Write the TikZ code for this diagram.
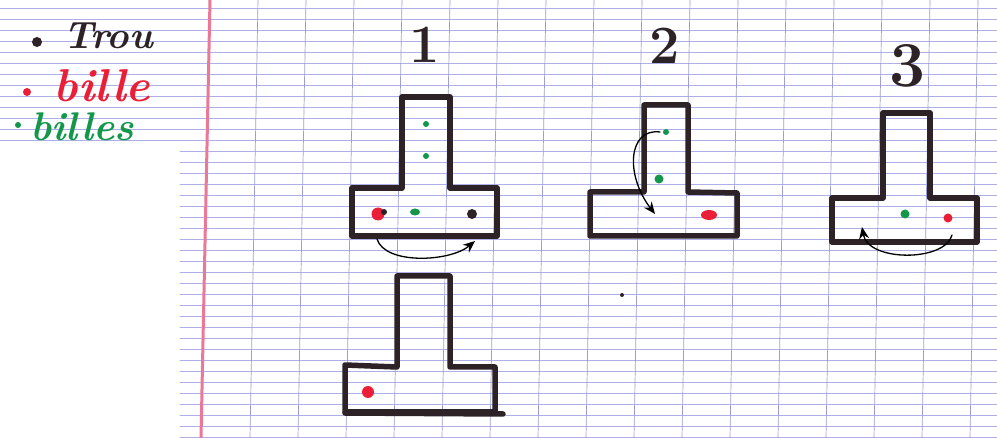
\documentclass[tikz,border=0pt]{standalone}
\usepackage{tikz}
\usetikzlibrary{arrows.meta}
\definecolor{ink}{RGB}{45,35,38}
\definecolor{redink}{RGB}{235,30,55}
\definecolor{greenink}{RGB}{20,150,75}
\definecolor{rule}{RGB}{175,175,232}
\definecolor{margin}{RGB}{235,120,150}

\begin{document}
\begin{tikzpicture}[x=1pt,y=-1pt,line join=round,line cap=round,>={Stealth[length=12pt,width=10pt,inset=4pt]}]
		\tikzstyle{marker}=[draw=ink,line width=5.5pt]
		\tikzstyle{move}=[draw=black,line width=1.3pt,->]
		\tikzstyle{rulel}=[draw=rule,line width=0.7pt]
		\tikzstyle{legend}=[inner sep=0pt]
		\tikzstyle{number}=[font=\bfseries\fontsize{54}{54}\selectfont,text=ink,inner sep=0pt]
		\useasboundingbox[fill=white] (0,0) rectangle (997,438);
		% paper
		\foreach \k in {0,...,39} {
			\pgfmathsetmacro{\yy}{8+11*\k}
			\pgfmathsetmacro{\xs}{\yy<145 ? 0 : 180}
			\draw[rulel] (\xs,\yy) -- (997,\yy);
		}
		\foreach \x in {258,306,...,978}
			\draw[rulel,draw=rule!90!black] (\x,0) -- (\x-8,438);
		\draw[margin,line width=3pt] (210,0) -- (201,438);
		% legende
		\fill[ink] (37,42) circle (5);
		\node[legend,text=ink,font=\itshape\bfseries\fontsize{38}{38}\selectfont] (trou) at (108,36) {Trou};
		\fill[redink] (27,92) circle (4);
		\node[legend,text=redink,font=\itshape\bfseries\fontsize{46}{46}\selectfont] (bille) at (102,86) {bille};
		\fill[greenink] (18,125) circle (3);
		\node[legend,text=greenink,font=\itshape\bfseries\fontsize{40}{40}\selectfont] (billes) at (82,127) {billes};
		% numeros
		\node[number] (n1) at (425,45) {1};
		\node[number] (n2) at (665,46) {2};
		\node[number,font=\bfseries\fontsize{64}{64}\selectfont] (n3) at (908,66) {3};
		% 1
		\draw[marker] (402,188) -- (402,97) -- (450,97) -- (450,188) -- (497,188) -- (497,236) -- (352,236) -- (352,188) -- cycle;
		\fill[redink] (378,214) circle (6.5);
		\fill[ink] (384,212) circle (3);
		\fill[greenink] (415,212) ellipse (5 and 3.5);
		\fill[ink] (472,214) circle (5);
		\fill[greenink] (426,124) circle (3);
		\fill[greenink] (426,156) circle (3);
		\coordinate (a1s) at (377,239);
		\coordinate (a1e) at (475,241);
		\draw[move] (a1s) .. controls (385,265) and (450,262) .. (a1e);
		% 1 bis
		\draw[marker] (397,367) -- (397,276) -- (450,276) -- (450,367) -- (495,367) -- (495,412) -- (345,412) -- (345,365) -- cycle;
		\draw[marker] (345,413) -- (503,414);
		\fill[redink] (368,392) circle (6);
		% 2
		\draw[marker] (644,192) -- (644,105) -- (688,105) -- (688,192) -- (737,193) -- (737,236) -- (590,236) -- (590,192) -- cycle;
		\fill[greenink] (666,132) circle (3);
		\fill[greenink] (659,179) circle (4.5);
		\fill[redink] (709,215) ellipse (8 and 5);
		\coordinate (a2s) at (660,132);
		\coordinate (a2e) at (655,214);
		\draw[move] (a2s) .. controls (628,128) and (625,175) .. (a2e);
		\fill[ink] (622,295) circle (2);
		% 3
		\draw[marker] (883,198) -- (883,113) -- (930,113) -- (930,198) -- (977,198) -- (977,242) -- (832,242) -- (832,198) -- cycle;
		\fill[greenink] (905,214) circle (4.5);
		\fill[redink] (948,218) circle (4.5);
		\coordinate (a3s) at (952,235);
		\coordinate (a3e) at (862,227);
		\draw[move] (a3s) .. controls (945,262) and (868,262) .. (a3e);
\end{tikzpicture}
\end{document}
